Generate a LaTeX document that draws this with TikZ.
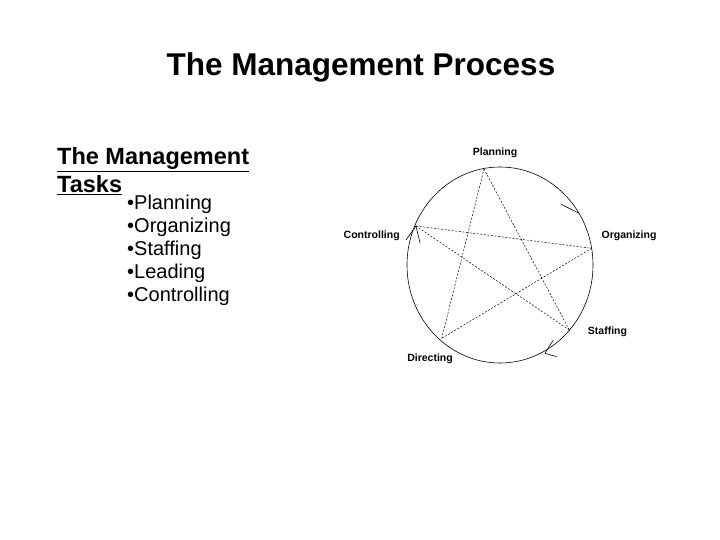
\documentclass[tikz,border=0pt]{standalone}
\usepackage{fontspec}
\setmainfont{Liberation Sans}
\usepackage{tikz}
\usetikzlibrary{positioning}

\begin{document}
\begin{tikzpicture}[x=1pt,y=-1pt,
    step label/.style={font=\fontsize{10.5}{12}\selectfont\bfseries,inner sep=0pt},
    task item/.style={font=\fontsize{20}{23}\selectfont,anchor=base west,inner sep=0pt},
    head text/.style={font=\fontsize{23.5}{28}\selectfont\bfseries,anchor=base west,inner sep=0pt},
    star line/.style={black,line width=0.5pt,dash pattern=on 2pt off 1.6pt},
    barb/.style={black,line width=0.6pt}]

		\useasboundingbox (0,0) rectangle (720,540);

		% titles and task list
		\node[font=\fontsize{31.5}{36}\selectfont\bfseries,anchor=base](title) at (361,76){The Management Process};
		\node[head text](head1) at (57,165){\underline{The Management}};
		\node[head text](head2) at (57,193){\underline{Tasks}};
		\node[task item](task1) at (127,209.5){•Planning};
		\node[task item](task2) at (127,232.5){•Organizing};
		\node[task item](task3) at (127,255.5){•Staffing};
		\node[task item](task4) at (127,278.5){•Leading};
		\node[task item](task5) at (127,301.5){•Controlling};

		% the cycle
		\draw[black,line width=0.6pt] (500,265) ellipse [x radius=93,y radius=98];

		\coordinate (plan) at (484,169);
		\coordinate (org) at (591.7,248.3);
		\coordinate (staff) at (569.3,330);
		\coordinate (dir) at (441.7,338.3);
		\coordinate (ctrl) at (416,226);

		\node[step label](planlbl) at (495,152.5){Planning};
		\node[step label](orglbl) at (629,236){Organizing};
		\node[step label](stafflbl) at (607.5,331.5){Staffing};
		\node[step label](dirlbl) at (430,359.3){Directing};
		\node[step label](ctrllbl) at (371.7,236){Controlling};

		\path (plan) edge [star line] (staff);
		\path (staff) edge [star line] (ctrl);
		\path (ctrl) edge [star line] (org);
		\path (org) edge [star line] (dir);
		\path (dir) edge [star line] (plan);

		% arrow marks on the circle
		\coordinate (tipa) at (578.5,213);
		\coordinate (barba) at (560.7,204);
		\coordinate (barbb) at (406,240);
		\coordinate (barbc) at (420,243);
		\coordinate (tipd) at (545,353.3);
		\coordinate (barbd) at (553.3,340);
		\coordinate (barbe) at (556.7,356.7);

		\path (barba) edge [barb] (tipa);
		\path (barbb) edge [barb] (ctrl);
		\path (barbc) edge [barb] (ctrl);
		\path (barbd) edge [barb] (tipd);
		\path (barbe) edge [barb] (tipd);

	\end{tikzpicture}
\end{document}
